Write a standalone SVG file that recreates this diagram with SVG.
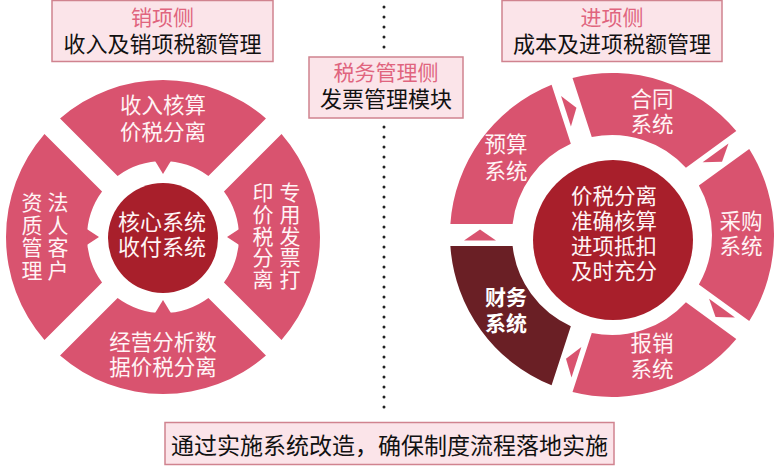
<svg xmlns="http://www.w3.org/2000/svg" width="774" height="466" viewBox="0 0 774 466">
<style>
.box{fill:#fbe4e9;stroke:#d0838f;stroke-width:1.5}
.ttl{font-family:"Noto Sans CJK SC","Noto Sans",sans-serif;font-size:21px;fill:#e0647e;text-anchor:middle}
.txt{font-family:"Noto Sans CJK SC","Noto Sans",sans-serif;font-size:22px;fill:#111;text-anchor:middle}
.seg{fill:#d9536f}
.core{fill:#a81f2b}
.dark{fill:#6a1f25}
.w{font-family:"Noto Sans CJK SC","Noto Sans",sans-serif;font-size:21.5px;fill:#fff4f5;text-anchor:middle}
.v{font-family:"Noto Sans CJK SC","Noto Sans",sans-serif;font-size:21px;fill:#fff4f5;text-anchor:middle;writing-mode:vertical-rl}
.wb{font-family:"Noto Sans CJK SC","Noto Sans",sans-serif;font-size:21px;font-weight:bold;fill:#fff;text-anchor:middle}
.tri{fill:#d9536f}
.dots{stroke:#222;stroke-width:3;stroke-linecap:round;stroke-dasharray:0 10;fill:none}
</style>
<rect width="774" height="466" fill="#ffffff"/>

<g id="connectors">
  <line class="dots" x1="384" y1="7" x2="384" y2="48"/>
  <line class="dots" x1="384" y1="127" x2="384" y2="408"/>
  <!-- left circle arrow tips -->
  <polygon class="tri" points="154.5,160 171.5,160 163,174"/>
  <polygon class="tri" points="154.5,314 171.5,314 163,300"/>
  <polygon class="tri" points="86,228.5 86,245.5 99,237"/>
  <polygon class="tri" points="240,228.5 240,245.5 227,237"/>
  <!-- right circle arrow tips -->
  <polygon class="tri" points="464,240.5 496,240.5 480,229.5"/>
  <polygon class="tri" points="561.04,95.94 570.92,126.38 576.44,107.76"/>
  <polygon class="tri" points="728.50,143.56 702.61,162.37 722.02,161.86"/>
  <polygon class="tri" points="734.97,317.55 709.08,298.74 715.56,317.04"/>
  <polygon class="tri" points="571.50,377.46 581.39,347.02 565.98,358.84"/>
</g>

<g id="box-xiaoxiang">
  <rect class="box" x="52" y="0.5" width="221" height="61"/>
  <text class="ttl" x="162.5" y="25">销项侧</text>
  <text class="txt" x="162.5" y="52">收入及销项税额管理</text>
</g>
<g id="box-jinxiang">
  <rect class="box" x="502" y="0.5" width="220" height="61"/>
  <text class="ttl" x="612" y="25">进项侧</text>
  <text class="txt" x="612" y="52">成本及进项税额管理</text>
</g>
<g id="box-shuiwu">
  <rect class="box" x="309" y="57" width="154" height="61"/>
  <text class="ttl" x="386" y="80">税务管理侧</text>
  <text class="txt" x="386" y="107">发票管理模块</text>
</g>
<g id="box-bottom">
  <rect class="box" x="165" y="422.5" width="449" height="42"/>
  <text class="txt" x="389.5" y="454" style="font-size:23px">通过实施系统改造，确保制度流程落地实施</text>
</g>

<!-- Left circle -->
<g id="left-top">
  <path class="seg" d="M60.04,118.48 A157,157 0 0 1 265.96,118.48 L208.40,176.05 A76,76 0 0 0 117.60,176.05 Z"/>
  <text class="w"><tspan x="163" y="113">收入核算</tspan><tspan x="163" y="140">价税分离</tspan></text>
</g>
<g id="left-left">
  <path class="seg" d="M44.48,339.96 A157,157 0 0 1 44.48,134.04 L102.05,191.60 A76,76 0 0 0 102.05,282.40 Z"/>
  <text class="v" x="58" y="237" style="letter-spacing:1.5px">法人客户</text>
  <text class="v" x="32" y="237" style="letter-spacing:1.5px">资质管理</text>
</g>
<g id="left-right">
  <path class="seg" d="M281.52,134.04 A157,157 0 0 1 281.52,339.96 L223.95,282.40 A76,76 0 0 0 223.95,191.60 Z"/>
  <text class="v" x="290" y="236" style="letter-spacing:0.8px">专用发票打</text>
  <text class="v" x="263" y="236" style="letter-spacing:0.8px">印价税分离</text>
</g>
<g id="left-bottom">
  <path class="seg" d="M265.96,355.52 A157,157 0 0 1 60.04,355.52 L117.60,297.95 A76,76 0 0 0 208.40,297.95 Z"/>
  <text class="w"><tspan x="163" y="350">经营分析数</tspan><tspan x="163" y="375">据价税分离</tspan></text>
</g>
<g id="left-core">
  <circle class="core" cx="163" cy="238" r="55"/>
  <text class="w" style="font-size:22px"><tspan x="162" y="230">核心系统</tspan><tspan x="162" y="255">收付系统</tspan></text>
</g>

<!-- Right circle -->
<g id="seg-yusuan">
  <path class="seg" d="M450.37,224 A162,162 0 0 1 551.59,84.68 L570.83,143.87 A100,100 0 0 0 512.61,224 Z"/>
  <text class="w"><tspan x="506" y="152">预算</tspan><tspan x="506" y="179">系统</tspan></text>
</g>
<g id="seg-hetong">
  <path class="seg" d="M572.52,77.88 A162,162 0 0 1 736.29,131.10 L685.94,167.68 A100,100 0 0 0 591.75,137.08 Z"/>
  <text class="w"><tspan x="652" y="107">合同</tspan><tspan x="652" y="132">系统</tspan></text>
</g>
<g id="seg-caigou">
  <path class="seg" d="M749.23,148.90 A162,162 0 0 1 749.23,321.10 L698.87,284.52 A100,100 0 0 0 698.87,185.48 Z"/>
  <text class="w"><tspan x="741" y="229">采购</tspan><tspan x="741" y="254">系统</tspan></text>
</g>
<g id="seg-baoxiao">
  <path class="seg" d="M736.29,338.90 A162,162 0 0 1 572.52,392.12 L591.75,332.92 A100,100 0 0 0 685.94,302.32 Z"/>
  <text class="w"><tspan x="652" y="351">报销</tspan><tspan x="652" y="377">系统</tspan></text>
</g>
<g id="seg-caiwu">
  <path class="dark" d="M551.59,385.32 A162,162 0 0 1 450.37,246 L512.61,246 A100,100 0 0 0 570.83,326.13 Z"/>
  <text class="wb"><tspan x="506" y="305">财务</tspan><tspan x="506" y="331">系统</tspan></text>
</g>
<g id="right-core">
  <circle class="core" cx="613" cy="240" r="80"/>
  <text class="w"><tspan x="614" y="204">价税分离</tspan><tspan x="614" y="229">准确核算</tspan><tspan x="614" y="254">进项抵扣</tspan><tspan x="614" y="279">及时充分</tspan></text>
</g>
</svg>
